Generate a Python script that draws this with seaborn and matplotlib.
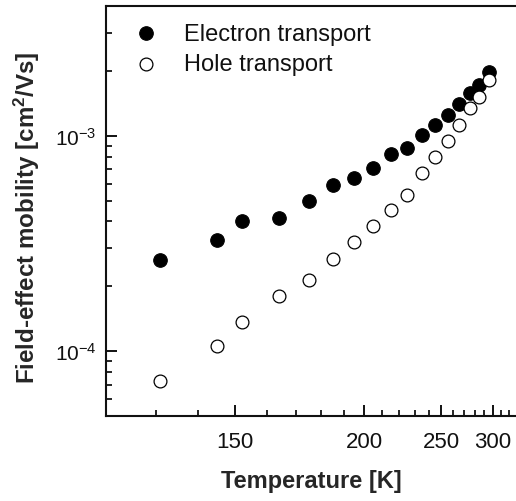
import numpy as np
import pandas as pd
import matplotlib
matplotlib.use("Agg")
import matplotlib.pyplot as plt
import matplotlib.ticker as mticker
import seaborn as sns

# ---- data ----
temperature = [131, 145, 152, 164, 175, 185, 195, 205, 215, 225, 235, 245, 255, 265, 275, 285, 295]
electron_mobility = [2.64e-4, 3.27e-4, 4.04e-4, 4.17e-4, 5.0e-4, 5.93e-4, 6.33e-4, 7.11e-4,
                     8.26e-4, 8.8e-4, 1.01e-3, 1.12e-3, 1.25e-3, 1.41e-3, 1.58e-3, 1.72e-3, 1.98e-3]
hole_mobility = [7.26e-5, 1.054e-4, 1.36e-4, 1.80e-4, 2.13e-4, 2.67e-4, 3.20e-4, 3.79e-4,
                 4.54e-4, 5.33e-4, 6.74e-4, 8.0e-4, 9.48e-4, 1.12e-3, 1.35e-3, 1.52e-3, 1.82e-3]
series_names = ["Electron transport", "Hole transport"]
major_xticks = [150, 200, 250, 300]
minor_xticks = list(range(130, 330, 10))

sns.set_theme(style="ticks")
plt.rcParams["font.family"] = ["Liberation Sans", "DejaVu Sans"]
plt.rcParams["mathtext.fontset"] = "custom"
plt.rcParams["mathtext.rm"] = "Liberation Sans"
plt.rcParams["mathtext.it"] = "Liberation Sans:italic"
plt.rcParams["mathtext.bf"] = "Liberation Sans:bold"

df_e = pd.DataFrame({"T": temperature, "mu": electron_mobility})
df_h = pd.DataFrame({"T": temperature, "mu": hole_mobility})

fig = plt.figure(figsize=(5.16, 5.02), dpi=100)
ax = fig.add_axes([106 / 516, 85 / 502, (516.5 - 106) / 516, 410 / 502])

ax.set_xscale("function", functions=(lambda t: -1.0 / t, lambda u: -1.0 / u))
ax.set_yscale("log")

sns.scatterplot(data=df_e, x="T", y="mu", ax=ax, color="black", edgecolor="black",
                s=95, linewidth=0.8, marker="o", label=series_names[0], zorder=3)
sns.scatterplot(data=df_h, x="T", y="mu", ax=ax, facecolor="white", edgecolor="black",
                s=85, linewidth=0.9, marker="o", label=series_names[1], zorder=4)

ax.set_xlim(120, 330)
ax.set_ylim(5e-5, 4e-3)

ax.xaxis.set_major_locator(mticker.FixedLocator(major_xticks))
ax.xaxis.set_minor_locator(mticker.FixedLocator(minor_xticks))
ax.xaxis.set_major_formatter(mticker.FixedFormatter([str(v) for v in major_xticks]))
ax.xaxis.set_minor_formatter(mticker.NullFormatter())

ax.yaxis.set_major_locator(mticker.LogLocator(base=10, numticks=10))
ax.yaxis.set_minor_locator(mticker.LogLocator(base=10, subs=np.arange(2, 10), numticks=10))
ax.yaxis.set_major_formatter(mticker.FuncFormatter(lambda v, p: r"10$^{%d}$" % int(round(np.log10(v)))))
ax.yaxis.set_minor_formatter(mticker.NullFormatter())

ax.tick_params(axis="both", which="major", direction="in", length=8, width=1.4,
               colors="#111111", pad=7)
ax.tick_params(axis="both", which="minor", direction="in", length=4.5, width=1.4)
ax.tick_params(axis="x", which="major", pad=11, labelsize=16)
ax.tick_params(axis="y", which="major", labelsize=15)
ax.tick_params(right=False, top=False, which="both")

for side in ["left", "bottom", "top"]:
    ax.spines[side].set_linewidth(1.5)
    ax.spines[side].set_color("#111111")
ax.spines["right"].set_visible(False)

ax.set_xlabel("Temperature [K]", fontsize=17, fontweight="bold", labelpad=12)
ax.set_ylabel(r"Field-effect mobility [cm$^\mathbf{2}$/Vs]", fontsize=17.4, fontweight="bold")
ax.yaxis.set_label_coords(-0.156, 0.485)

leg = ax.legend(loc="upper left", bbox_to_anchor=(0.0, 1.0), frameon=False, fontsize=17,
                handletextpad=0.6, borderaxespad=0.3, labelspacing=0.38, markerscale=1.0)
for t in leg.get_texts():
    t.set_color("#111111")

fig.savefig("out.png", dpi=100)
